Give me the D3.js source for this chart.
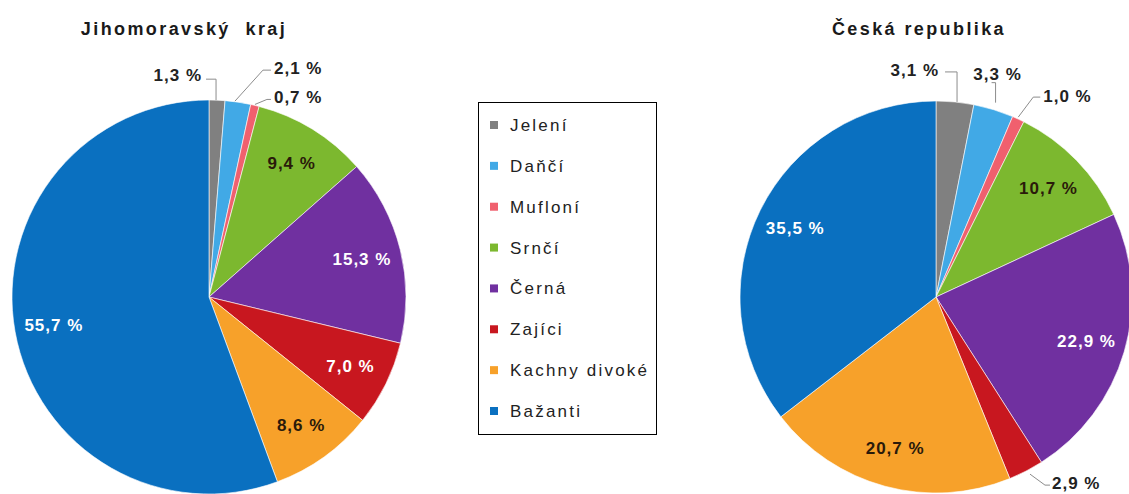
<!DOCTYPE html>
<html>
<head>
<meta charset="utf-8">
<script src="https://cdn.jsdelivr.net/npm/d3@7"></script>
<style>
  body { margin: 0; background: #fff; }
  text { font-family: "Liberation Sans", Arial, sans-serif; }
  .title { font-size: 18px; font-weight: bold; fill: #1a1a1a; letter-spacing: 2.4px; }
  .pct { font-size: 17px; font-weight: bold; letter-spacing: 1px; }
  .legend-text { font-size: 17px; fill: #222; letter-spacing: 2.2px; }
</style>
</head>
<body>
<svg id="chart" width="1129" height="494"></svg>
<script>
const categories = ['Jelení', 'Daňčí', 'Mufloní', 'Srnčí', 'Černá', 'Zajíci', 'Kachny divoké', 'Bažanti'];
const colors = ['#808080', '#41a9e6', '#f0606e', '#7cb82f', '#7030a0', '#c8171f', '#f7a12a', '#0a70c0'];
const jihoValues = [1.3, 2.1, 0.7, 9.4, 15.3, 7.0, 8.6, 55.7];
const crValues = [3.1, 3.3, 1.0, 10.7, 22.9, 2.9, 20.7, 35.5];
const chartTitles = ['Jihomoravský  kraj', 'Česká republika'];

const svg = d3.select('#chart');
const color = d3.scaleOrdinal().domain(categories).range(colors);
const darkText = new Set(['Srnčí', 'Kachny divoké']);
const fmt = v => v.toFixed(1).replace('.', ',') + ' %';

// layout of the two pies; leader lines are offsets from the slice edge
const pies = [
  { values: jihoValues, title: chartTitles[0], cx: 209, cy: 297, r: 197, titleX: 184,
    outside: {
      'Jelení':  { pts: [[-1, 0], [-1, -21], [-11, -21]], txt: [-15, -19], anchor: 'end' },
      'Daňčí':   { pts: [[-3, -1], [25, -32], [33, -32]], txt: [36, -28], anchor: 'start' },
      'Mufloní': { pts: [[0, -1], [12, -6], [16, -6]], txt: [19, -2], anchor: 'start' }
    } },
  { values: crValues, title: chartTitles[1], cx: 936, cy: 297, r: 196, titleX: 919,
    outside: {
      'Jelení':  { pts: [[2, 0], [2, -30], [-10, -30]], txt: [-16, -26], anchor: 'end' },
      'Daňčí':   { pts: [[2, -7], [2, -27], [-2, -27]], txt: [4, -30], anchor: 'middle' },
      'Mufloní': { pts: [[0, -2], [15, -22], [22, -22]], txt: [25, -17], anchor: 'start' },
      'Zajíci':  { pts: [[4, 3], [19, 14], [24, 14]], txt: [26, 18], anchor: 'start' }
    } }
];

const pie = d3.pie().sort(null).value(d => d.value);

pies.forEach(p => {
  const data = categories.map((c, i) => ({ cat: c, value: p.values[i] }));
  const arcs = pie(data);
  const g = svg.append('g').attr('transform', `translate(${p.cx},${p.cy})`);
  const arc = d3.arc().innerRadius(0).outerRadius(p.r);
  const labelArc = d3.arc().innerRadius(p.r * 0.8).outerRadius(p.r * 0.8);

  g.selectAll('path.slice').data(arcs).enter().append('path')
    .attr('class', 'slice')
    .attr('d', arc)
    .attr('fill', d => color(d.data.cat))
    .attr('stroke', '#fff')
    .attr('stroke-width', 0.6);

  arcs.forEach(d => {
    const mid = (d.startAngle + d.endAngle) / 2;
    const o = p.outside[d.data.cat];
    if (o) {
      const ex = Math.sin(mid) * p.r, ey = -Math.cos(mid) * p.r;
      g.append('path')
        .attr('d', d3.line()(o.pts.map(q => [ex + q[0], ey + q[1]])))
        .attr('fill', 'none')
        .attr('stroke', '#8c8c8c')
        .attr('stroke-width', 1);
      g.append('text')
        .attr('class', 'pct')
        .attr('x', ex + o.txt[0])
        .attr('y', ey + o.txt[1])
        .attr('text-anchor', o.anchor)
        .attr('fill', '#222')
        .text(fmt(d.data.value));
    } else {
      const [lx, ly] = labelArc.centroid(d);
      g.append('text')
        .attr('class', 'pct')
        .attr('x', lx)
        .attr('y', ly)
        .attr('dy', '0.35em')
        .attr('text-anchor', 'middle')
        .attr('fill', darkText.has(d.data.cat) ? '#2a1a0a' : '#fff')
        .text(fmt(d.data.value));
    }
  });

  svg.append('text')
    .attr('class', 'title')
    .attr('x', p.titleX)
    .attr('y', 35)
    .attr('text-anchor', 'middle')
    .style('white-space', 'pre')
    .text(p.title);
});

// legend
const legendG = svg.append('g').attr('transform', 'translate(478,102)');
legendG.append('rect')
  .attr('x', 0.5).attr('y', 0.5)
  .attr('width', 178).attr('height', 332)
  .attr('fill', '#fff')
  .attr('stroke', '#000')
  .attr('stroke-width', 1);

const legendY = d3.scalePoint().domain(categories).range([23, 309]);
const item = legendG.selectAll('g.item').data(categories).enter().append('g')
  .attr('class', 'item')
  .attr('transform', d => `translate(0,${legendY(d)})`);
item.append('rect')
  .attr('x', 12).attr('y', -4)
  .attr('width', 8).attr('height', 8)
  .attr('fill', d => color(d));
item.append('text')
  .attr('class', 'legend-text')
  .attr('x', 32)
  .attr('y', 6)
  .text(d => d);
</script>
</body>
</html>
